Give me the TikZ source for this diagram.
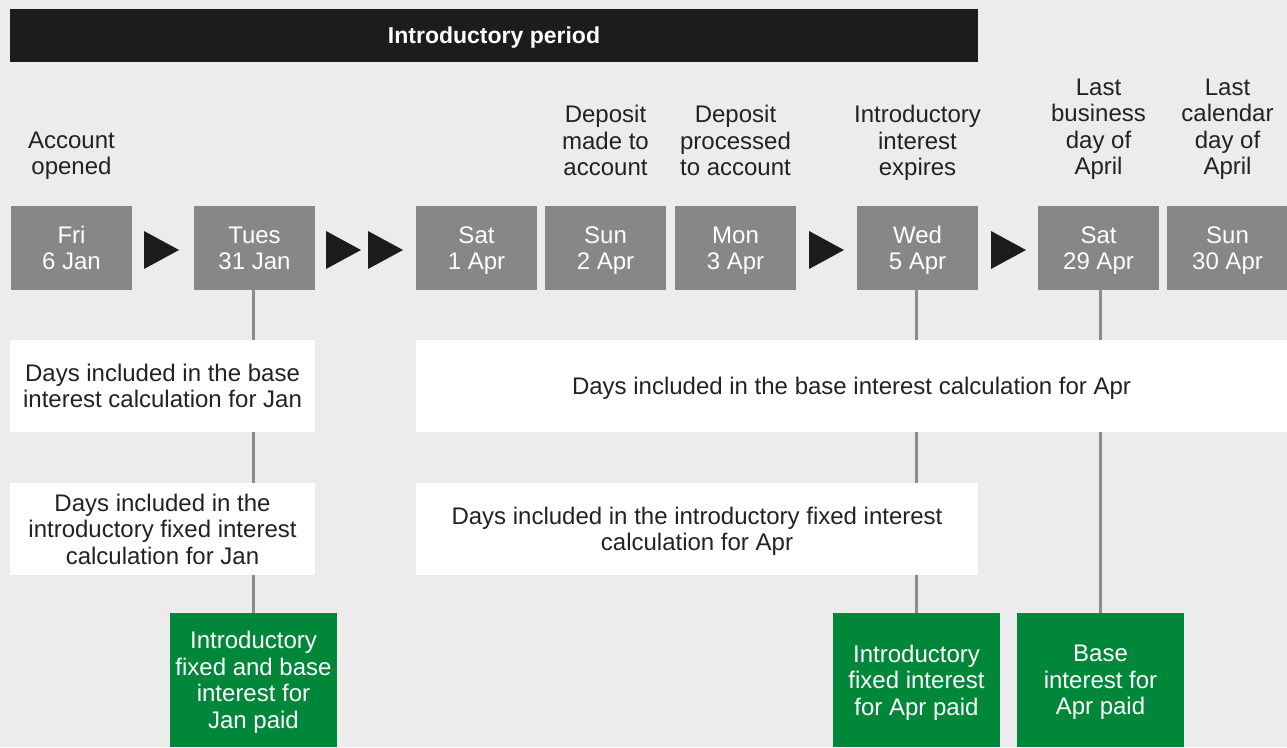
\documentclass[tikz,border=0pt]{standalone}
\usepackage{fontspec}
\setmainfont{Liberation Sans}
\definecolor{bgc}{HTML}{ECECEC}
\definecolor{bar}{HTML}{1C1C1A}
\definecolor{dategrey}{HTML}{878786}
\definecolor{paidgreen}{HTML}{00873A}
\definecolor{linkgrey}{HTML}{8C8C8C}
\definecolor{ink}{HTML}{222222}
\begin{document}
\begin{tikzpicture}[x=1pt,y=-1pt,
    every node/.style={font=\fontsize{24}{26.5}\selectfont, align=center, inner sep=0pt},
    datebox/.style={fill=dategrey, text=white, minimum width=121pt, minimum height=84pt, text depth=0pt},
    infobox/.style={fill=white, text=ink, minimum height=92pt, text depth=0pt},
    paidbox/.style={fill=paidgreen, text=white, minimum width=167pt, minimum height=134pt, text depth=0pt},
    event/.style={text=ink, anchor=north},
    link/.style={draw=linkgrey, line width=2.2pt},
    marker/.style={fill=bar}]
        \useasboundingbox (0,0) rectangle (1287,747);
        \fill[bgc] (0,0) rectangle (1287,747);
        % introductory period
        \node[fill=bar, text=white, minimum width=968pt, minimum height=53pt, text depth=0pt,
              font=\fontsize{23}{26}\selectfont\bfseries] (intro) at (494,35.5) {Introductory period};
        % dates
        \node[datebox] (fri) at (71.5,248) {Fri\\6 Jan};
        \node[datebox] (tues) at (254.5,248) {Tues\\31 Jan};
        \node[datebox] (sat1) at (476.5,248) {Sat\\1 Apr};
        \node[datebox] (sun2) at (605.5,248) {Sun\\2 Apr};
        \node[datebox] (mon3) at (735.5,248) {Mon\\3 Apr};
        \node[datebox] (wed5) at (917.5,248) {Wed\\5 Apr};
        \node[datebox] (sat29) at (1098.5,248) {Sat\\29 Apr};
        \node[datebox] (sun30) at (1227.5,248) {Sun\\30 Apr};
        \foreach \x in {144,326,368,809,991}
            \fill[marker] (\x,231) -- ++(35,19) -- ++(-35,19) -- cycle;
        % events
        \node[event] (opened) at (71.5,131.5) {Account\\opened};
        \node[event] (made) at (605.5,105) {Deposit\\made to\\account};
        \node[event] (processed) at (735.5,105) {Deposit\\processed\\to account};
        \node[event] (expires) at (917.5,105) {Introductory\\interest\\expires};
        \node[event] (lastbiz) at (1098.5,78.5) {Last\\business\\day of\\April};
        \node[event] (lastcal) at (1227.5,78.5) {Last\\calendar\\day of\\April};
        % payments
        \node[paidbox] (janpaid) at (253.5,680) {Introductory\\fixed and base\\interest for\\Jan paid};
        \node[paidbox] (fixedpaid) at (916.5,680) {Introductory\\fixed interest\\for Apr paid};
        \node[paidbox] (basepaid) at (1100.5,680) {Base\\interest for\\Apr paid};
        \draw[link] (janpaid.north |- tues.south) -- (janpaid.north);
        \draw[link] (fixedpaid.north |- wed5.south) -- (fixedpaid.north);
        \draw[link] (basepaid.north |- sat29.south) -- (basepaid.north);
        % days counted
        \node[infobox, minimum width=305pt] (janbasedays) at (162.5,386) {Days included in the base\\interest calculation for Jan};
        \node[infobox, minimum width=871pt] (aprbasedays) at (851.5,386) {Days included in the base interest calculation for Apr};
        \node[infobox, minimum width=305pt] (janfixeddays) at (162.5,529) {Days included in the\\introductory fixed interest\\calculation for Jan};
        \node[infobox, minimum width=562pt] (aprfixeddays) at (697,529) {Days included in the introductory fixed interest\\calculation for Apr};
\end{tikzpicture}
\end{document}
